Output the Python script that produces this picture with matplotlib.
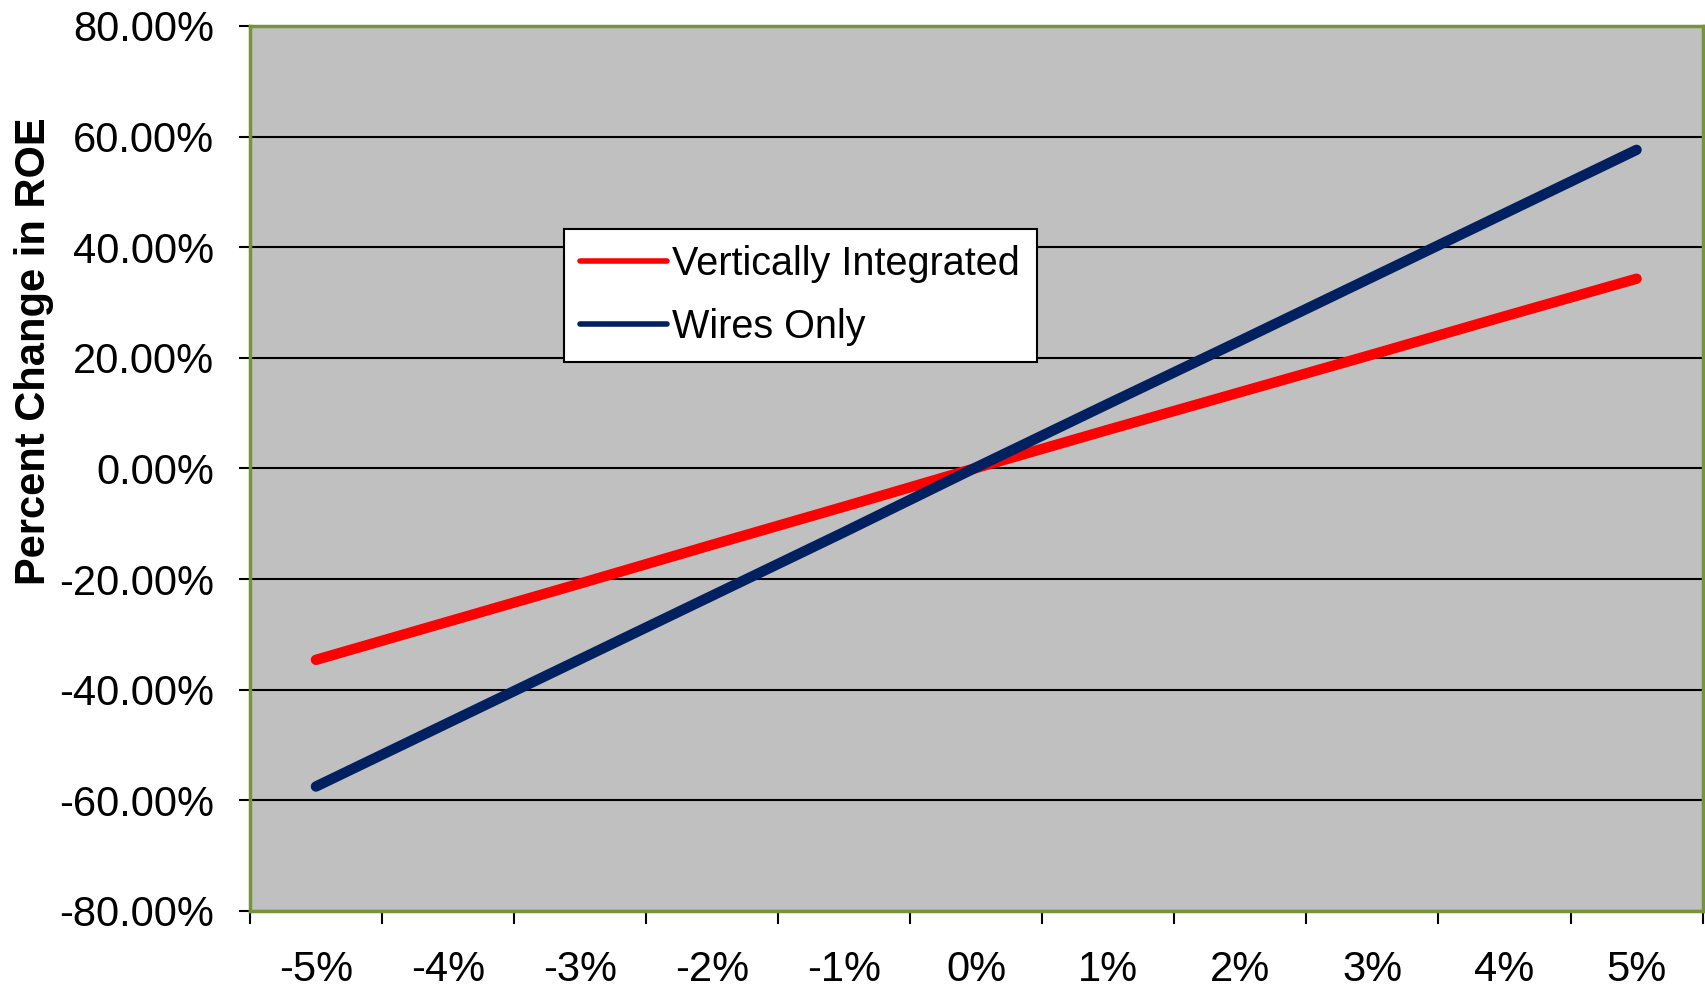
import numpy as np
import matplotlib.pyplot as plt
from matplotlib.ticker import FixedLocator, FuncFormatter

plt.rcParams['font.family'] = ['Liberation Sans', 'DejaVu Sans']

# datos
categorias = ["-5%", "-4%", "-3%", "-2%", "-1%", "0%", "1%", "2%", "3%", "4%", "5%"]
vert_integrado = [-34.6, -27.7, -20.8, -13.8, -6.9, 0.1, 7.0, 13.8, 20.6, 27.5, 34.3]
solo_cables    = [-57.5, -46.0, -34.5, -23.0, -11.5, 0.2, 11.7, 23.1, 34.6, 46.1, 57.6]
y_ticks = [-80, -60, -40, -20, 0, 20, 40, 60, 80]

ROJO = "#FF0000"
AZUL = "#002060"
BORDE = "#77933C"

fig = plt.figure(figsize=(17.06, 9.98), dpi=100)
ax = fig.add_axes([0.1465, 0.0872, 0.8515, 0.8868])
ax.set_facecolor("#C0C0C0")

x = np.arange(len(categorias))
ax.plot(x, vert_integrado, color=ROJO, lw=7.5, solid_capstyle="round",
        label="Vertically Integrated", zorder=3)
ax.plot(x, solo_cables, color=AZUL, lw=7.5, solid_capstyle="round",
        label="Wires Only", zorder=4)

ax.set_xlim(-0.5, len(categorias) - 0.5)
ax.set_ylim(-80, 80)

# eje y
ax.set_yticks(y_ticks)
ax.yaxis.set_major_formatter(FuncFormatter(lambda v, p: f"{v:.2f}%"))
ax.tick_params(axis="y", length=8, width=1.5, color="black", pad=18, labelsize=30)
ax.grid(axis="y", color="black", lw=1.5, zorder=1)
ax.set_axisbelow(True)

# eje x: etiquetas en el centro, marcas en los bordes
ax.set_xticks(x)
ax.set_xticklabels(categorias)
ax.tick_params(axis="x", which="major", length=0, pad=28, labelsize=30)
ax.xaxis.set_minor_locator(FixedLocator(np.arange(-0.5, len(categorias), 1.0)))
ax.tick_params(axis="x", which="minor", length=9, width=1.5, color="black")

for s in ax.spines.values():
    s.set_color(BORDE)
    s.set_linewidth(2.5)

# la etiqueta del eje y está desplazada hacia arriba en el original
ax.set_ylabel("Percent Change in ROE", fontsize=30, fontweight="bold")
ax.yaxis.set_label_coords(-0.135, 0.632)

leg = ax.legend(loc="upper left", bbox_to_anchor=(0.216, 0.771), fontsize=28.5,
                frameon=True, fancybox=False, edgecolor="black", framealpha=1,
                handlelength=2.2, handletextpad=0.12, labelspacing=0.62,
                borderpad=0.42, borderaxespad=0)
leg.get_frame().set_linewidth(1.5)
for ln in leg.get_lines():
    ln.set_linewidth(4)

fig.savefig("out.png", dpi=100, facecolor="white")
